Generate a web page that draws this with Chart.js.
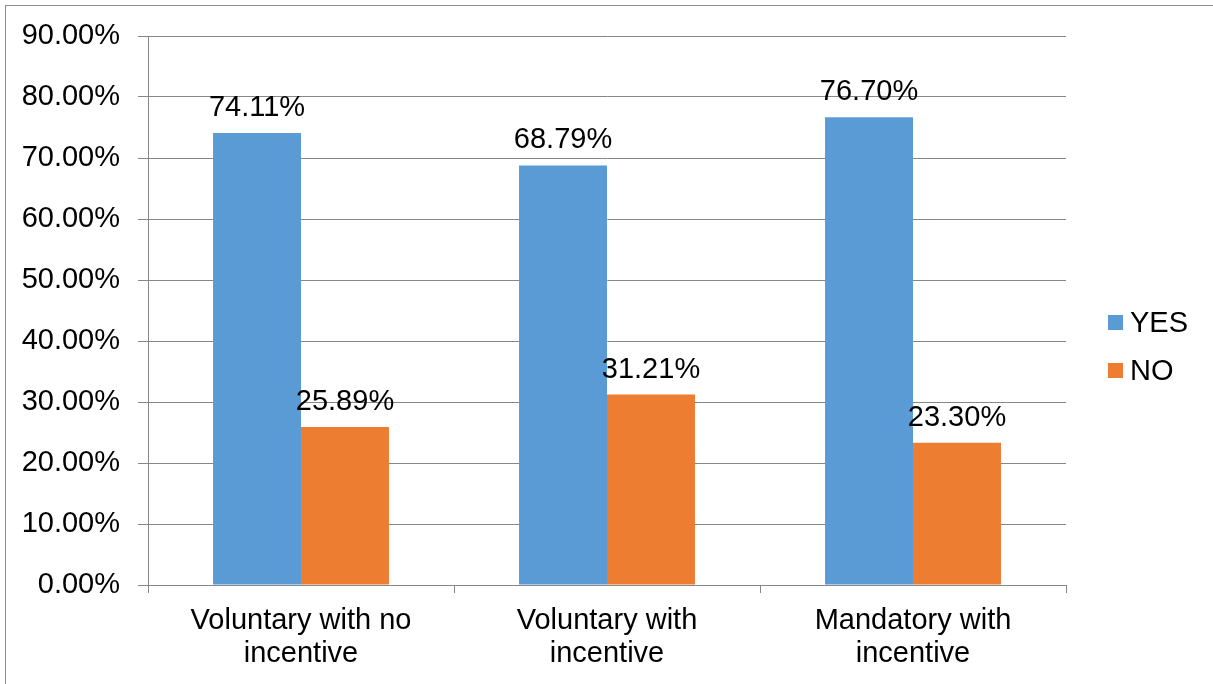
<!DOCTYPE html>
<html>
<head>
<meta charset="utf-8">
<script src="https://cdn.jsdelivr.net/npm/chart.js@4.4.1/dist/chart.umd.min.js"></script>
<style>
  html, body { margin: 0; padding: 0; background: #fff; overflow: hidden; }
  #frame { position: absolute; left: 5px; top: 5px; width: 1400px; height: 900px; border: 1px solid #8e8e8e; box-sizing: border-box; }
  #wrap { position: absolute; left: 0; top: 0; width: 1213px; height: 684px; }
</style>
</head>
<body>
<div id="frame"></div>
<div id="wrap"><canvas id="chart" width="1213" height="684"></canvas></div>
<script>
// Survey answers by enrolment scheme
const categories = [
  ['Voluntary with no', 'incentive'],
  ['Voluntary with', 'incentive'],
  ['Mandatory with', 'incentive']
];
const yesValues = [0.7411, 0.6879, 0.7670];
const noValues = [0.2589, 0.3121, 0.2330];
const seriesNames = ['YES', 'NO'];
const seriesColors = ['#5B9BD5', '#ED7D31'];
const yTicks = [0, 0.1, 0.2, 0.3, 0.4, 0.5, 0.6, 0.7, 0.8, 0.9];

const FONT = '"Liberation Sans", Arial, sans-serif';
const FONT_SIZE = 29;
const GRID = '#878787';

function pct(v) { return (v * 100).toFixed(2) + '%'; }

// Value labels above each bar
const barLabels = {
  id: 'barLabels',
  afterDatasetsDraw(chart) {
    const ctx = chart.ctx;
    ctx.save();
    ctx.font = FONT_SIZE + 'px ' + FONT;
    ctx.fillStyle = '#000';
    ctx.textAlign = 'center';
    ctx.textBaseline = 'alphabetic';
    chart.data.datasets.forEach((ds, i) => {
      chart.getDatasetMeta(i).data.forEach((bar, j) => {
        ctx.fillText(pct(ds.data[j]), bar.x, bar.y - 17);
      });
    });
    ctx.restore();
  }
};

// Legend on the right side
const sideLegend = {
  id: 'sideLegend',
  afterDraw(chart) {
    const ctx = chart.ctx;
    ctx.save();
    ctx.font = FONT_SIZE + 'px ' + FONT;
    ctx.textAlign = 'left';
    ctx.textBaseline = 'alphabetic';
    chart.data.datasets.forEach((ds, i) => {
      const baseY = 332 + i * 48;
      ctx.fillStyle = ds.backgroundColor;
      ctx.fillRect(1108, baseY - 17, 15, 15);
      ctx.fillStyle = '#000';
      ctx.fillText(ds.label, 1130, baseY);
    });
    ctx.restore();
  }
};

new Chart(document.getElementById('chart'), {
  type: 'bar',
  data: {
    labels: categories,
    datasets: [
      { label: seriesNames[0], data: yesValues, backgroundColor: seriesColors[0] },
      { label: seriesNames[1], data: noValues, backgroundColor: seriesColors[1] }
    ]
  },
  options: {
    responsive: false,
    animation: false,
    devicePixelRatio: 1,
    layout: { padding: { top: 36, right: 147, bottom: 0, left: 0 } },
    plugins: { legend: { display: false }, tooltip: { enabled: false } },
    datasets: { bar: { categoryPercentage: 0.575, barPercentage: 1.0 } },
    scales: {
      x: {
        grid: { offset: true, drawOnChartArea: false, drawTicks: true, tickLength: 8, color: GRID, lineWidth: 1 },
        border: { color: GRID, width: 1 },
        ticks: { color: '#000', font: { family: FONT, size: FONT_SIZE, lineHeight: 1.14 }, padding: 11, maxRotation: 0, autoSkip: false },
        afterFit(scale) { scale.height = 99; }
      },
      y: {
        min: 0,
        max: 0.9,
        afterBuildTicks(scale) { scale.ticks = yTicks.map(v => ({ value: v })); },
        grid: { color: GRID, lineWidth: 1, drawTicks: true, tickLength: 10 },
        border: { color: GRID, width: 1 },
        ticks: { color: '#000', font: { family: FONT, size: FONT_SIZE }, padding: 18, callback: v => pct(v) },
        afterFit(scale) { scale.width = 148; }
      }
    }
  },
  plugins: [barLabels, sideLegend]
});
</script>
</body>
</html>
